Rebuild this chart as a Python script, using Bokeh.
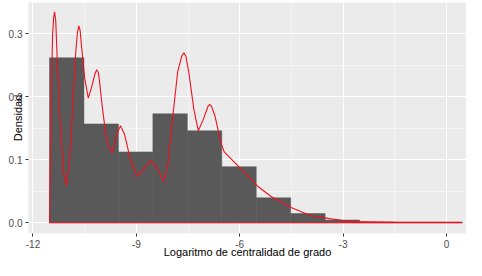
from bokeh.plotting import figure
from bokeh.models import Range1d, FixedTicker
from bokeh.embed import file_html
from bokeh.resources import INLINE

# Histogram (density scale): bin left edges, bin width, densities
bin_left = [-11.52, -10.52, -9.52, -8.52, -7.52, -6.52, -5.52, -4.52, -3.52, -2.52, -1.52, -0.52]
bin_width = 1.0
bin_density = [0.262, 0.157, 0.1125, 0.173, 0.146, 0.089, 0.0395, 0.0145, 0.0042, 0.001, 0.0005, 0.0005]

# Kernel density curve
dens_x = [-11.52, -11.49, -11.43, -11.40, -11.375, -11.34, -11.29, -11.20, -11.11, -11.03,
          -10.94, -10.85, -10.76, -10.71, -10.67, -10.63, -10.59, -10.50, -10.395, -10.30,
          -10.20, -10.15, -10.10, -10.07, -9.98, -9.86, -9.70, -9.57, -9.46, -9.34,
          -9.17, -8.97, -8.79, -8.58, -8.41, -8.21, -8.09, -7.94, -7.80, -7.68,
          -7.62, -7.56, -7.48, -7.33, -7.20, -7.05, -6.92, -6.87, -6.82, -6.72,
          -6.55, -6.45, -5.97, -5.48, -5.10, -4.51, -3.93, -3.34, -2.77, -1.32, 0.43]
dens_y = [0.0, 0.15, 0.30, 0.326, 0.335, 0.322, 0.25, 0.15, 0.08, 0.058,
          0.10, 0.18, 0.27, 0.302, 0.313, 0.305, 0.28, 0.23, 0.198, 0.215,
          0.237, 0.243, 0.238, 0.225, 0.18, 0.13, 0.11, 0.14, 0.154, 0.14,
          0.10, 0.073, 0.085, 0.099, 0.088, 0.066, 0.09, 0.17, 0.24, 0.265,
          0.27, 0.264, 0.24, 0.18, 0.146, 0.165, 0.185, 0.188, 0.185, 0.17,
          0.128, 0.1125, 0.086, 0.058, 0.042, 0.024, 0.011, 0.006, 0.0016, 0.0008, 0.0005]

x_ticks = [-12, -9, -6, -3, 0]
x_tick_labels = ["-12", "-9", "-6", "-3", "0"]
x_minor = [-10.5, -7.5, -4.5, -1.5]
y_ticks = [0.0, 0.1, 0.2, 0.3]
y_tick_labels = ["0.0", "0.1", "0.2", "0.3"]
y_minor = [0.05, 0.15, 0.25, 0.35]

x_title = "Logaritmo de centralidad de grado"
y_title = "Densidad"

FONT = "Liberation Sans"

p = figure(width=466, height=260, output_backend="svg", toolbar_location=None,
           x_range=Range1d(-12.13, 0.583), y_range=Range1d(-0.0172, 0.35),
           min_border_left=28, min_border_right=0, min_border_top=2, min_border_bottom=0)
p.background_fill_color = "#EBEBEB"
p.border_fill_color = "white"
p.outline_line_color = None

for ax, ticks, minor, labels in ((p.xaxis[0], x_ticks, x_minor, x_tick_labels),
                                 (p.yaxis[0], y_ticks, y_minor, y_tick_labels)):
    ax.ticker = FixedTicker(ticks=ticks, minor_ticks=minor)
    ax.major_label_overrides = {t: l for t, l in zip(ticks, labels)}
    ax.axis_line_color = None
    ax.major_tick_line_color = "#333333"
    ax.major_tick_in = 0
    ax.major_tick_out = 3
    ax.minor_tick_line_color = None
    ax.major_label_text_font = FONT
    ax.major_label_text_font_size = "10px"
    ax.major_label_text_color = "#4D4D4D"
    ax.major_label_standoff = 2
    ax.axis_label_text_font = FONT
    ax.axis_label_text_font_size = "11px"
    ax.axis_label_text_font_style = "normal"
    ax.axis_label_text_color = "black"

p.xaxis.axis_label = x_title
p.xaxis.axis_label_standoff = -5
p.yaxis.axis_label = y_title
p.yaxis.axis_label_standoff = -18

for g in (p.xgrid[0], p.ygrid[0]):
    g.grid_line_color = "white"
    g.grid_line_width = 1.1
    g.minor_grid_line_color = "white"
    g.minor_grid_line_width = 0.5
p.xgrid[0].ticker = FixedTicker(ticks=x_ticks, minor_ticks=x_minor)
p.ygrid[0].ticker = FixedTicker(ticks=y_ticks, minor_ticks=y_minor)

bin_right = [b + bin_width for b in bin_left]
p.quad(left=bin_left, right=bin_right, bottom=[0] * len(bin_left), top=bin_density,
       fill_color="#595959", line_color="#595959", line_width=0.5)

poly_x = dens_x + [dens_x[-1], dens_x[0]]
poly_y = dens_y + [0.0, 0.0]
p.patch(poly_x, poly_y, fill_alpha=0, line_color="#F0101E", line_width=1.1)

open("out.html", "w").write(file_html(p, INLINE))
